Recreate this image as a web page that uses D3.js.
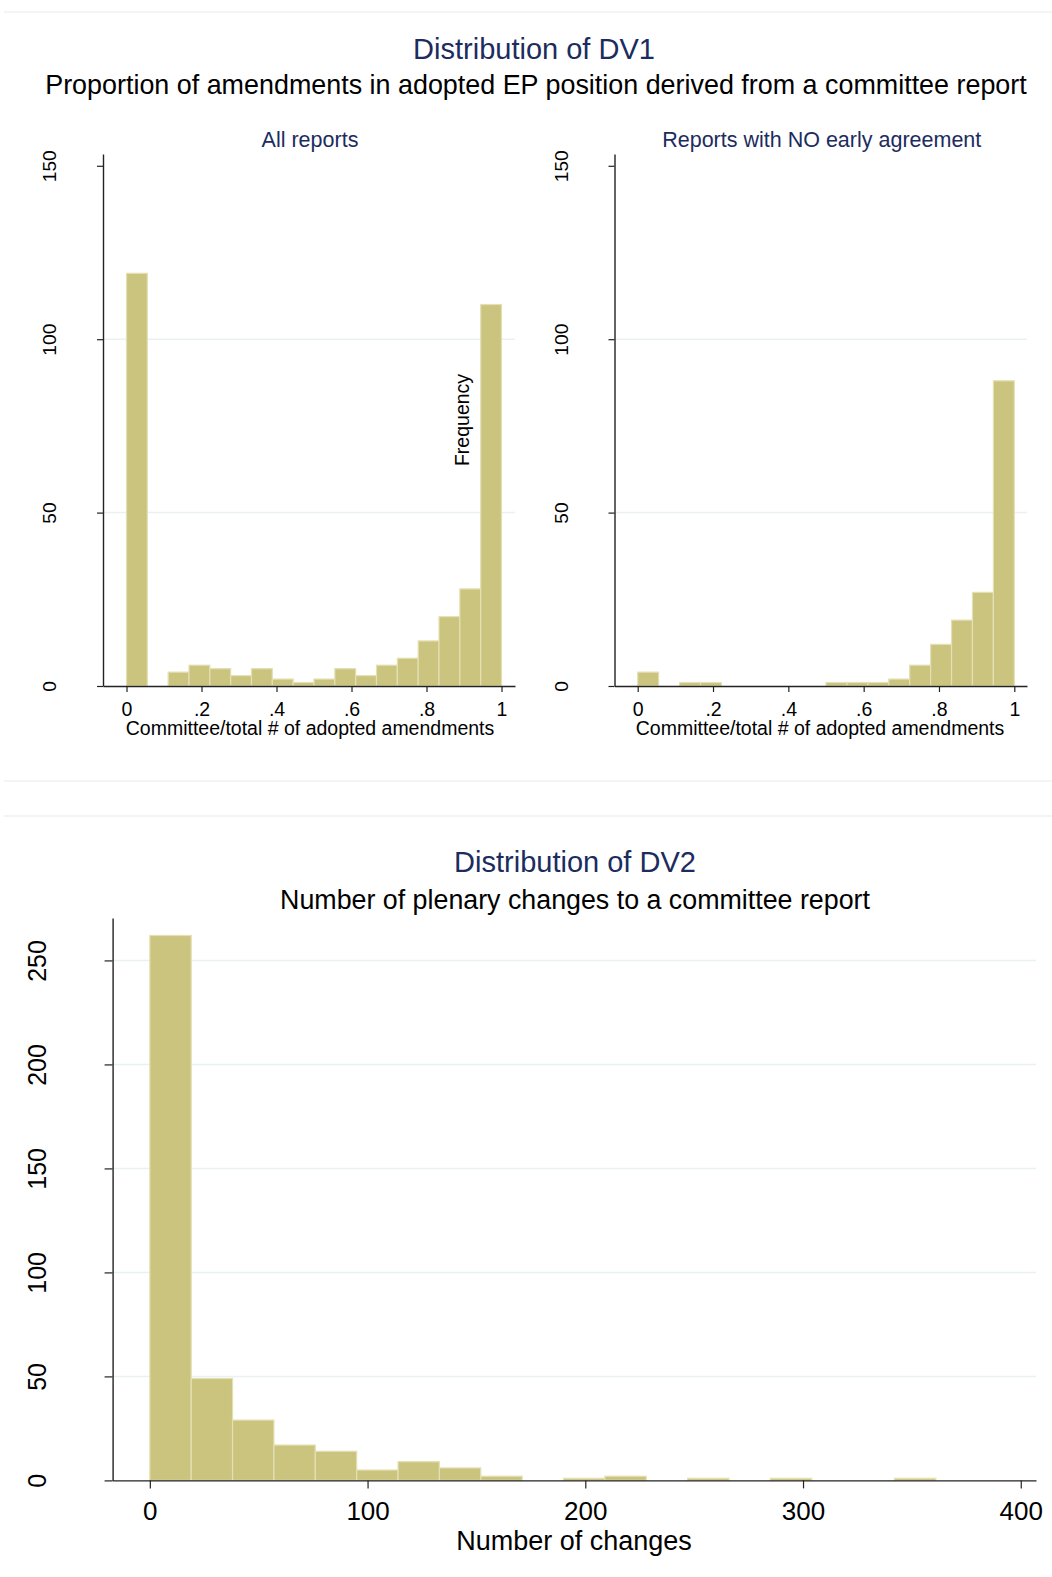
<!DOCTYPE html>
<html>
<head>
<meta charset="utf-8">
<script src="https://cdn.jsdelivr.net/npm/d3@7"></script>
<style>
  body { margin: 0; background: #fff; }
  svg text { font-family: "Liberation Sans", Arial, sans-serif; }
</style>
</head>
<body>
<div id="chart"></div>
<script>
// DV1: 18 equal bins over [0, 1]
const dv1BinCount = 18;
const allReports = [119, 0, 4, 6, 5, 3, 5, 2, 1, 2, 5, 3, 6, 8, 13, 20, 28, 110];
const noEarlyAgreement = [4, 0, 1, 1, 0, 0, 0, 0, 0, 1, 1, 1, 2, 6, 12, 19, 27, 88];
const dv1XTicks = [0, 0.2, 0.4, 0.6, 0.8, 1];
const dv1YTicks = [0, 50, 100, 150];

// DV2: bins of width 19 starting at 0
const dv2BinWidth = 19;
const plenaryChanges = [262, 49, 29, 17, 14, 5, 9, 6, 2, 0, 1, 2, 0, 1, 0, 1, 0, 0, 1];
const dv2XTicks = [0, 100, 200, 300, 400];
const dv2YTicks = [0, 50, 100, 150, 200, 250];

const W = 1052, H = 1577;
const navy = "#1c2c5e";
const barFill = "#cbc47f";
const barEdge = "#e4e0b4";
const gridColor = "#e9f1f3";

const svg = d3.select("#chart").append("svg")
    .attr("width", W)
    .attr("height", H);

// graph region outlines
[12, 781, 816].forEach(y => {
    svg.append("line")
        .attr("x1", 4).attr("x2", W)
        .attr("y1", y).attr("y2", y)
        .attr("stroke", "#e6ebeb").attr("stroke-width", 1.2);
});

function centerText(x, y, txt, size, color) {
    svg.append("text")
        .attr("x", x).attr("y", y)
        .attr("text-anchor", "middle")
        .attr("font-size", size)
        .attr("fill", color)
        .text(txt);
}

// Titles
centerText(534, 59, "Distribution of DV1", 29, navy);
centerText(536, 94, "Proportion of amendments in adopted EP position derived from a committee report", 26.9, "#000");
centerText(575, 872, "Distribution of DV2", 29, navy);
centerText(575, 909, "Number of plenary changes to a committee report", 26.8, "#000");

// Draw one histogram panel
function drawPanel(opts) {
    const g = svg.append("g");
    const x = opts.x, y = opts.y;
    const [xl, xr] = x.range();
    const [yb, yt] = y.range();

    // gridlines (not at axis ends)
    g.selectAll(".grid")
        .data(opts.grid)
        .enter()
        .append("line")
        .attr("x1", xl).attr("x2", xr)
        .attr("y1", d => y(d)).attr("y2", d => y(d))
        .attr("stroke", gridColor).attr("stroke-width", 1.5);

    // bars
    g.selectAll(".bar")
        .data(opts.counts.map((c, i) => ({ i, c })).filter(d => d.c > 0))
        .enter()
        .append("rect")
        .attr("x", d => x(opts.x0 + d.i * opts.w))
        .attr("width", d => x(opts.x0 + (d.i + 1) * opts.w) - x(opts.x0 + d.i * opts.w))
        .attr("y", d => y(d.c))
        .attr("height", d => y(0) - y(d.c))
        .attr("fill", barFill)
        .attr("stroke", barEdge)
        .attr("stroke-width", 1.2);

    // x axis
    const xa = g.append("g")
        .attr("transform", `translate(0,${yb})`)
        .call(d3.axisBottom(x).tickValues(opts.xTicks).tickFormat(opts.xFormat)
            .tickSize(opts.tick).tickSizeOuter(0).tickPadding(opts.xPad));
    xa.select(".domain").attr("stroke", "#222").attr("stroke-width", 1.4);
    xa.selectAll(".tick line").attr("stroke", "#222").attr("stroke-width", 1.2);
    xa.selectAll("text").attr("font-size", opts.xFont).attr("fill", "#000")
        .attr("font-family", "Liberation Sans, Arial, sans-serif");

    // y axis
    const ya = g.append("g")
        .attr("transform", `translate(${xl},0)`)
        .call(d3.axisLeft(y).tickValues(opts.yTicks).tickSize(opts.tick).tickSizeOuter(0));
    ya.select(".domain").attr("stroke", "#222").attr("stroke-width", 1.4);
    ya.selectAll(".tick line").attr("stroke", "#222").attr("stroke-width", 1.2);
    ya.selectAll("text")
        .attr("transform", "rotate(-90)")
        .attr("x", 0).attr("y", -opts.yGap).attr("dy", 0)
        .attr("text-anchor", "middle")
        .attr("font-size", opts.yFont).attr("fill", "#000")
        .attr("font-family", "Liberation Sans, Arial, sans-serif");

    // x title
    svg.append("text")
        .attr("x", opts.xTitleX).attr("y", opts.xTitleY)
        .attr("text-anchor", "middle")
        .attr("font-size", opts.xTitleFont)
        .text(opts.xTitle);

    if (opts.title) {
        centerText((xl + xr) / 2 + 1, opts.titleY, opts.title, 21.5, navy);
    }
}

const dv1Format = d => d === 0 ? "0" : d === 1 ? "1" : d3.format(".1f")(d).replace(/^0/, "");
// plot regions extend a little past the data range, as in the original
const yTop = d3.scaleLinear().domain([0, 153.4]).range([686, 154]);

drawPanel({
    x: d3.scaleLinear().domain([-0.0627, 1.0360]).range([103, 515]),
    y: yTop,
    counts: allReports, x0: 0, w: 1 / dv1BinCount,
    xTicks: dv1XTicks, yTicks: dv1YTicks, grid: [50, 100],
    xFormat: dv1Format, tick: 6, xPad: 10,
    xFont: 19.5, yFont: 19.2, yGap: 47,
    xTitle: "Committee/total # of adopted amendments", xTitleX: 310, xTitleY: 735, xTitleFont: 19.5,
    title: "All reports", titleY: 147
});

drawPanel({
    x: d3.scaleLinear().domain([-0.0616, 1.0337]).range([614.5, 1027]),
    y: yTop,
    counts: noEarlyAgreement, x0: 0, w: 1 / dv1BinCount,
    xTicks: dv1XTicks, yTicks: dv1YTicks, grid: [50, 100],
    xFormat: dv1Format, tick: 6, xPad: 10,
    xFont: 19.5, yFont: 19.2, yGap: 47,
    xTitle: "Committee/total # of adopted amendments", xTitleX: 820, xTitleY: 735, xTitleFont: 19.5,
    title: "Reports with NO early agreement", titleY: 147
});

// Stray y-axis title sitting inside the left panel
svg.append("text")
    .attr("transform", "translate(469,420) rotate(-90)")
    .attr("text-anchor", "middle")
    .attr("font-size", 19.5)
    .text("Frequency");

drawPanel({
    x: d3.scaleLinear().domain([-17.1, 407]).range([112.6, 1036]),
    y: d3.scaleLinear().domain([0, 270.4]).range([1480.4, 918]),
    counts: plenaryChanges, x0: 0, w: dv2BinWidth,
    xTicks: dv2XTicks, yTicks: dv2YTicks, grid: [50, 100, 150, 200, 250],
    xFormat: d3.format("d"), tick: 8, xPad: 13,
    xFont: 26, yFont: 25, yGap: 67,
    xTitle: "Number of changes", xTitleX: 574, xTitleY: 1550, xTitleFont: 27,
    title: null
});
</script>
</body>
</html>
